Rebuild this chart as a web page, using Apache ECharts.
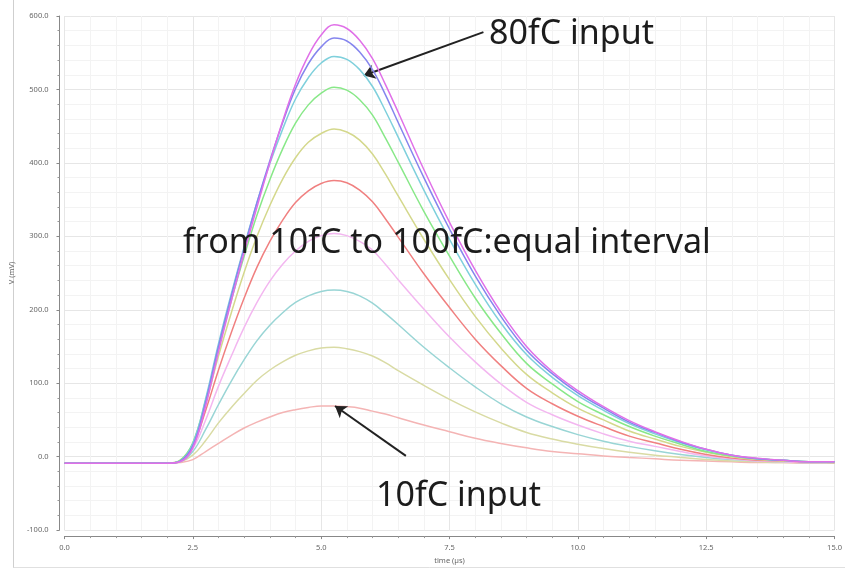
<!DOCTYPE html>
<html>
<head>
<meta charset="utf-8">
<script src="https://cdn.jsdelivr.net/npm/echarts@6/dist/echarts.min.js"></script>
<style>
  html, body { margin: 0; padding: 0; background: #fff; }
  #main { width: 845px; height: 570px; }
</style>
</head>
<body>
<div id="main"></div>
<script>
// time points (µs), shared by all curves: 0.25 µs steps over the pulse, 0.5 µs on the tail
const times = [0, 2.0, 2.25, 2.5, 2.75, 3.0, 3.25, 3.5, 3.75, 4.0, 4.25, 4.5, 4.75, 5.0, 5.25, 5.5, 5.75, 6.0, 6.25, 6.5,
               7.0, 7.5, 8.0, 8.5, 9.0, 9.5, 10.0, 10.5, 11.0, 11.5, 12.0, 12.5, 13.0, 13.5, 14.0, 14.5, 15.0];

// output voltage (mV), one array per input charge
const v10fC  = [-9, -9, -8, -4, 7, 18, 29, 39, 47, 54, 60, 64, 67, 69, 69, 68, 66, 62, 58, 53,
                43, 34, 25, 18, 12, 7, 4, 1, -1, -3, -5, -6, -7, -8, -8, -9, -9];
const v20fC  = [-9, -9, -7, 2, 22, 46, 67, 86, 104, 118, 129, 138, 144, 148, 149, 147, 143, 137, 128, 117,
                97, 78, 61, 46, 33, 24, 17, 11, 6, 2, -1, -4, -6, -7, -8, -8, -9];
const v30fC  = [-9, -9, -7, 7, 37, 71, 103, 132, 158, 179, 196, 210, 219, 225, 227, 225, 219, 209, 195, 180,
                149, 121, 95, 72, 54, 41, 30, 21, 14, 8, 3, -1, -4, -6, -7, -8, -8];
const v40fC  = [-9, -9, -6, 11, 50, 96, 137, 176, 210, 239, 262, 280, 293, 301, 304, 301, 293, 281, 262, 241,
                201, 163, 129, 99, 74, 57, 43, 31, 21, 14, 7, 1, -3, -6, -7, -8, -8];
const v50fC  = [-9, -9, -6, 15, 63, 118, 169, 216, 258, 293, 322, 346, 362, 372, 376, 373, 363, 347, 324, 299,
                249, 203, 160, 124, 93, 72, 55, 41, 28, 19, 10, 3, -2, -5, -6, -7, -8];
const v60fC  = [-9, -9, -5, 18, 72, 137, 196, 251, 300, 342, 378, 407, 428, 440, 446, 442, 431, 412, 385, 355,
                296, 241, 191, 148, 112, 87, 66, 50, 35, 24, 14, 6, 0, -4, -6, -7, -8];
const v70fC  = [-9, -9, -5, 19, 77, 148, 213, 273, 329, 377, 419, 454, 479, 495, 503, 499, 486, 465, 434, 401,
                334, 273, 216, 168, 127, 99, 75, 57, 41, 28, 17, 7, 1, -3, -5, -7, -7];
const v80fC  = [-9, -9, -6, 18, 79, 154, 222, 286, 346, 399, 446, 487, 516, 536, 545, 541, 527, 504, 471, 435,
                363, 296, 235, 182, 139, 108, 83, 63, 45, 31, 19, 9, 2, -3, -5, -7, -7];
const v90fC  = [-9, -9, -6, 15, 75, 150, 219, 284, 346, 403, 455, 501, 535, 558, 570, 566, 551, 527, 493, 455,
                380, 310, 246, 191, 145, 113, 87, 66, 47, 33, 20, 10, 2, -3, -5, -7, -7];
const v100fC = [-9, -9, -7, 12, 69, 143, 212, 278, 340, 400, 457, 507, 546, 574, 588, 583, 567, 542, 507, 469,
                391, 319, 254, 197, 150, 116, 90, 68, 49, 34, 21, 10, 2, -2, -5, -7, -7];

const curveNames = ['10fC', '20fC', '30fC', '40fC', '50fC', '60fC', '70fC', '80fC', '90fC', '100fC'];
const curveValues = [v10fC, v20fC, v30fC, v40fC, v50fC, v60fC, v70fC, v80fC, v90fC, v100fC];
const curveColors = ['#f4b4b4', '#d9dba4', '#99d5d5', '#f3b7f0', '#f08080', '#d4d88c', '#88e888', '#7fd0dc', '#8585ee', '#e070e8'];

// annotation anchors in data coords [time, mV]
const arrow80 = [[8.16, 578], [5.83, 519]];
const arrow10 = [[6.65, 1], [5.27, 69]];
const labels = [
  { text: '80fC input', at: [8.27, 575] },
  { text: 'from 10fC to 100fC:equal interval', at: [2.31, 290] },
  { text: '10fC input', at: [6.07, -54] }
];

const chart = echarts.init(document.getElementById('main'));

const series = curveNames.map((name, i) => ({
  name: name,
  type: 'line',
  data: times.map((t, k) => [t, curveValues[i][k]]),
  smooth: 0.4,
  showSymbol: false,
  lineStyle: { color: curveColors[i], width: 1.5 },
  z: 3 + i
}));

// arrows drawn as mark lines on the last series
series[series.length - 1].markLine = {
  silent: true,
  symbol: ['none', 'arrow'],
  symbolSize: 11,
  label: { show: false },
  lineStyle: { color: '#222', width: 2, type: 'solid' },
  data: [
    [{ coord: arrow80[0] }, { coord: arrow80[1] }],
    [{ coord: arrow10[0] }, { coord: arrow10[1] }]
  ]
};

const axisLabelStyle = { color: '#666', fontSize: 7.5, fontFamily: 'Noto Sans' };

chart.setOption({
  animation: false,
  backgroundColor: '#fff',
  grid: { left: 62, right: 9, top: 16, bottom: 33 },
  xAxis: {
    type: 'value',
    min: 0, max: 15, interval: 2.5,
    offset: 6,
    name: 'time (µs)',
    nameLocation: 'middle',
    nameGap: 19,
    nameTextStyle: { color: '#666', fontSize: 7.5, fontFamily: 'Noto Sans' },
    axisLine: { show: true, onZero: false, lineStyle: { color: '#888', width: 1 } },
    axisTick: { show: true, length: 3, lineStyle: { color: '#888' } },
    minorTick: { show: true, splitNumber: 5, length: 2, lineStyle: { color: '#999' } },
    axisLabel: Object.assign({ margin: 8, formatter: v => v.toFixed(1) }, axisLabelStyle),
    splitLine: { show: true, lineStyle: { color: '#e6e6e6', width: 1 } },
    minorSplitLine: { show: true, lineStyle: { color: '#f3f3f3', width: 1 } }
  },
  yAxis: {
    type: 'value',
    min: -100, max: 600, interval: 100,
    offset: 5,
    name: 'V (mV)',
    nameLocation: 'middle',
    nameGap: 36,
    nameTextStyle: { color: '#666', fontSize: 7.5, fontFamily: 'Noto Sans' },
    axisLine: { show: true, onZero: false, lineStyle: { color: '#888', width: 1 } },
    axisTick: { show: true, length: 3, lineStyle: { color: '#888' } },
    minorTick: { show: true, splitNumber: 5, length: 2, lineStyle: { color: '#999' } },
    axisLabel: Object.assign({ margin: 11, formatter: v => v.toFixed(1) }, axisLabelStyle),
    splitLine: { show: true, lineStyle: { color: '#e6e6e6', width: 1 } },
    minorSplitLine: { show: true, lineStyle: { color: '#f3f3f3', width: 1 } }
  },
  series: series
});

// big annotation texts + panel frame
const graphics = labels.map(l => {
  const p = chart.convertToPixel({ gridIndex: 0 }, l.at);
  return {
    type: 'text',
    x: p[0], y: p[1], z: 100,
    style: {
      text: l.text,
      fill: '#1c1c1c',
      font: '34px "Noto Sans"',
      verticalAlign: 'middle'
    }
  };
});
graphics.push(
  { type: 'line', shape: { x1: 13.5, y1: 0, x2: 13.5, y2: 568 }, style: { stroke: '#cfcfcf', lineWidth: 1 } },
  { type: 'line', shape: { x1: 13.5, y1: 567.5, x2: 845, y2: 567.5 }, style: { stroke: '#e0e0e0', lineWidth: 1 } }
);
chart.setOption({ graphic: graphics });
</script>
</body>
</html>
